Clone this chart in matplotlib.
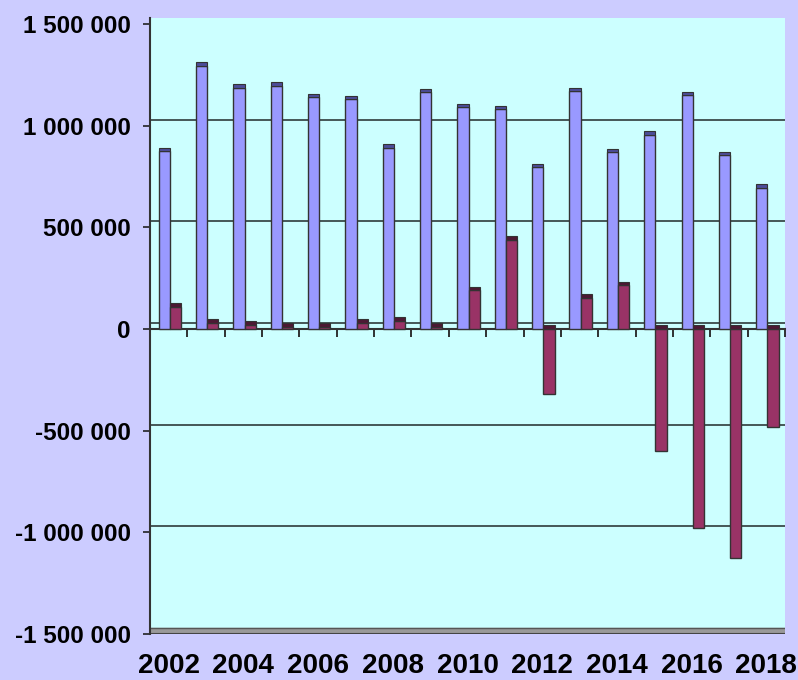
import numpy as np
from matplotlib import pyplot as plt

years = list(range(2002, 2019))
blue = [875000, 1295000, 1185000, 1195000, 1140000, 1130000, 890000, 1165000,
        1090000, 1080000, 795000, 1170000, 870000, 955000, 1150000, 855000, 695000]
red = [110000, 30000, 20000, 12000, 10000, 30000, 40000, 10000,
       190000, 440000, -320000, 155000, 215000, -600000, -980000, -1125000, -480000]
tick_years = [2002, 2004, 2006, 2008, 2010, 2012, 2014, 2016, 2018]
yticks = [-1500000, -1000000, -500000, 0, 500000, 1000000, 1500000]

def fmt(v):
    s = f"{abs(v):,}".replace(",", " ")
    return "-" + s if v < 0 else s

#+++++
bg = "#CCCCFF"
wall = "#CCFFFF"
c_blue, c_red = "#9999FF", "#993366"
cap_blue, cap_red = "#4C4C99", "#4C1933"
edge = "#333333"
depth = 30000
w = 0.3
#-----

fig = plt.figure(figsize=(7.98, 6.8), dpi=100, facecolor=bg)
ax = fig.add_axes([150/798, 46/680, 635/798, 616/680])
ax.set_facecolor(wall)

x = np.arange(len(years))
ax.set_xlim(-0.5, len(years) - 0.5)
ylo, yhi = -1500000, 1500000 + depth
ax.set_ylim(ylo, yhi)

# back wall gridlines and floor
for v in yticks[1:-1]:
    ax.axhline(v + depth, color="#3A4A4A", lw=1.3, zorder=1)
ax.axhspan(ylo, ylo + depth, color="#999999", zorder=1)
ax.axhline(ylo + depth, color="#555555", lw=1, zorder=1)
ax.axhline(ylo, color="#444444", lw=1.5, zorder=1)

xb = x - w / 2 + 0.03
xr = x + w / 2 + 0.03
ax.bar(xb, blue, width=w, color=c_blue, edgecolor=edge, lw=1, zorder=3)
ax.bar(xr, red, width=w, color=c_red, edgecolor=edge, lw=1, zorder=3)

# darker caps to fake the 3D top face
cap = depth * 0.6
ax.bar(xb, [cap] * len(blue), bottom=blue, width=w, color=cap_blue,
       edgecolor=edge, lw=0.8, zorder=4)
ax.bar(xr, [cap] * len(red), bottom=[max(v, 0) for v in red], width=w,
       color=cap_red, edgecolor=edge, lw=0.8, zorder=4)

for s in ["top", "right", "bottom"]:
    ax.spines[s].set_visible(False)
ax.spines["left"].set_color("#333333")
ax.spines["left"].set_linewidth(1.5)

ax.set_yticks(yticks)
ax.set_yticklabels([fmt(v) for v in yticks], fontsize=17.5, fontweight="bold",
                   family="Liberation Sans")
ax.tick_params(axis="y", length=5, width=1.2, color="#222222", pad=9)

ax.set_xticks([years.index(t) for t in tick_years])
ax.set_xticklabels([str(t) for t in tick_years], fontsize=20, fontweight="bold",
                   family="Liberation Sans")
ax.tick_params(axis="x", length=0, pad=14)

# zero line with boundary ticks
loc = (0 - ylo) / (yhi - ylo)
sec = ax.secondary_xaxis(loc)
sec.set_xticks(np.arange(len(years) + 1) - 0.5)
sec.set_xticklabels([])
sec.tick_params(length=6, width=1.3, color="#222222", direction="out")
sec.spines["bottom"].set_color("#333333")
sec.spines["bottom"].set_linewidth(1.5)

fig.savefig("out.png", dpi=100, facecolor=bg)
